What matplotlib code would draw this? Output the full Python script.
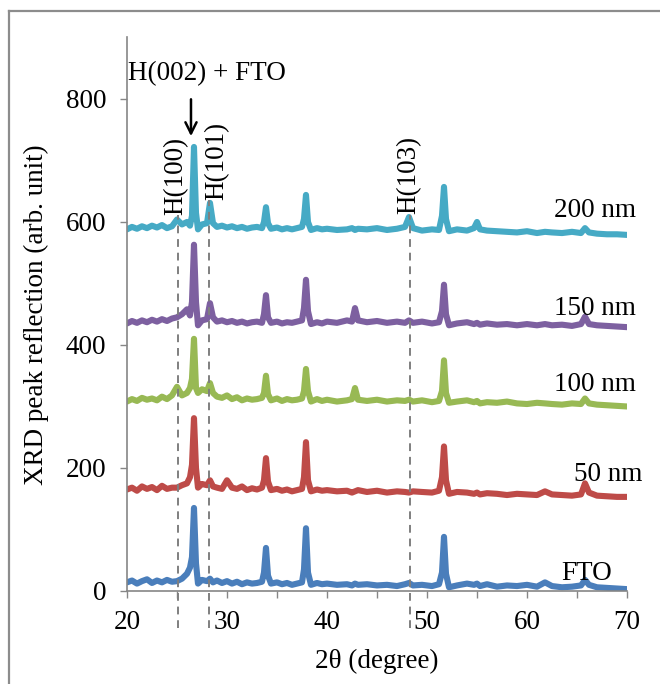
import numpy as np
import matplotlib.pyplot as plt
from matplotlib.lines import Line2D

plt.rcParams['font.family'] = ['Liberation Serif', 'DejaVu Serif']

# shared 2-theta grid (degree)
two_theta = [20, 20.5, 21, 21.5, 22, 22.5, 23, 23.5, 24, 24.5,
             25, 25.5, 26, 26.3, 26.5, 26.7, 26.9, 27.1, 27.5, 28,
             28.3, 28.6, 29, 29.5, 30, 30.5, 31, 31.5, 32, 32.5,
             33, 33.5, 33.7, 33.9, 34.1, 34.4, 35, 35.5, 36, 36.5,
             37, 37.5, 37.7, 37.9, 38.1, 38.4, 39, 39.5, 40, 41,
             42, 42.5, 42.8, 43.1, 44, 45, 46, 47, 47.8, 48.2,
             48.6, 49.5, 50.5, 51.2, 51.5, 51.7, 51.9, 52.2, 53, 54,
             54.7, 55, 55.3, 56, 57, 58, 59, 60, 61, 61.8,
             62.5, 63.5, 64.5, 65.4, 65.8, 66.2, 67, 68, 69, 70]

fto = [14, 17, 12, 16, 19, 13, 17, 14, 18, 15,
       16, 20, 28, 38, 55, 135, 45, 12, 18, 16,
       20, 14, 17, 13, 16, 12, 15, 11, 14, 12,
       13, 15, 30, 70, 25, 12, 14, 11, 13, 10,
       12, 14, 35, 102, 30, 10, 13, 11, 12, 10,
       11, 9, 12, 10, 11, 9, 10, 8, 11, 13,
       9, 10, 8, 11, 30, 88, 28, 6, 9, 12,
       10, 12, 8, 11, 7, 9, 8, 10, 7, 14,
       8, 6, 7, 9, 18, 10, 6, 5, 4, 3]

nm50 = [165, 168, 163, 170, 166, 169, 164, 171, 166, 168,
        168, 172, 175, 185, 205, 281, 200, 168, 174, 172,
        180, 170, 168, 166, 180, 168, 166, 170, 164, 167,
        165, 168, 180, 216, 178, 164, 166, 163, 165, 162,
        164, 166, 185, 242, 180, 162, 165, 163, 164, 162,
        163, 160, 162, 164, 161, 163, 160, 162, 161, 160,
        162, 161, 160, 163, 185, 235, 180, 158, 161, 160,
        158, 160, 157, 159, 158, 156, 158, 157, 156, 162,
        157, 156, 155, 157, 175, 160, 155, 154, 153, 153]

nm100 = [308, 312, 309, 314, 311, 313, 310, 316, 312, 318,
         332, 318, 322, 330, 345, 410, 330, 322, 328, 325,
         338, 322, 316, 314, 318, 312, 315, 310, 313, 311,
         312, 314, 322, 350, 320, 310, 313, 309, 312, 310,
         311, 313, 325, 361, 325, 308, 312, 309, 311, 308,
         310, 312, 330, 311, 309, 311, 308, 310, 309, 311,
         308, 310, 307, 309, 325, 375, 322, 306, 308, 310,
         307, 309, 305, 307, 306, 308, 305, 304, 306, 305,
         304, 303, 305, 304, 313, 305, 303, 302, 301, 300]

nm150 = [435, 439, 436, 440, 437, 441, 438, 442, 439, 443,
         445, 450, 458, 448, 470, 563, 470, 432, 440, 442,
         468, 445, 438, 440, 437, 439, 436, 438, 435, 437,
         438, 436, 450, 481, 445, 436, 438, 435, 437, 436,
         438, 440, 460, 506, 455, 434, 437, 435, 438, 436,
         440, 438, 460, 440, 437, 439, 436, 438, 436, 440,
         436, 438, 435, 437, 455, 498, 450, 432, 435, 437,
         434, 436, 433, 435, 433, 434, 432, 434, 432, 434,
         432, 433, 431, 434, 446, 434, 432, 431, 430, 429]

nm200 = [588, 592, 589, 593, 590, 594, 591, 595, 590, 593,
         604, 596, 600, 594, 610, 722, 615, 588, 596, 598,
         631, 598, 592, 594, 591, 593, 590, 592, 589, 591,
         592, 590, 600, 624, 598, 589, 591, 588, 590, 588,
         590, 592, 605, 644, 600, 587, 590, 588, 589, 587,
         588, 590, 587, 589, 588, 590, 587, 589, 592, 608,
         590, 586, 588, 587, 610, 657, 605, 585, 588, 586,
         590, 600, 588, 586, 585, 584, 583, 585, 582, 584,
         583, 582, 584, 582, 590, 583, 581, 580, 580, 579]

series = [fto, nm50, nm100, nm150, nm200]
colors = ['#4a7ebb', '#be4b48', '#98b954', '#7d60a0', '#46aac5']
names = ['FTO', '50 nm', '100 nm', '150 nm', '200 nm']
name_pos = [(66.0, 29), (68.1, 189), (66.8, 335), (66.8, 460), (66.8, 619)]

# hexagonal ZnO reflections (dashed guides)
peak_names = ['H(100)', 'H(101)', 'H(103)']
peak_x = [25.1, 28.2, 48.3]
peak_top = [611, 636, 611]
peak_label_pos = [(24.9, 675), (28.95, 699), (48.15, 676)]

fs = 19.5

fig = plt.figure(figsize=(6.6, 6.84), dpi=100)
ax = fig.add_axes([0.1924, 0.1360, 0.7576, 0.8092])

for ys, c in zip(series, colors):
    ax.plot(two_theta, ys, color=c, lw=4.4, solid_joinstyle='round',
            solid_capstyle='round')

for px, top in zip(peak_x, peak_top):
    ax.plot([px, px], [-60, top], color='#7f7f7f', lw=1.4,
            ls=(0, (4, 3)), clip_on=False, zorder=3)

for name, (lx, ly) in zip(peak_names, peak_label_pos):
    ax.text(lx, ly, name, rotation=90, ha='center', va='center', fontsize=fs)

for name, (lx, ly) in zip(names, name_pos):
    ax.text(lx, ly, name, ha='center', va='center', fontsize=fs)

ax.text(20.1, 842, 'H(002) + FTO', ha='left', va='center', fontsize=fs)
ax.annotate('', xy=(26.4, 735), xytext=(26.4, 804),
            arrowprops=dict(arrowstyle='->,head_length=0.8,head_width=0.4',
                            color='black', lw=1.8))

ax.set_xlim(20, 70)
ax.set_ylim(0, 900)
ax.set_xticks([20, 30, 40, 50, 60, 70])
ax.set_xticks([25, 35, 45, 55, 65], minor=True)
ax.set_yticks([0, 200, 400, 600, 800])
ax.tick_params(axis='both', which='both', direction='out', length=5,
               width=1, color='#868686', labelsize=fs)
ax.tick_params(axis='x', pad=9)
ax.tick_params(axis='y', pad=10)
for s in ['top', 'right']:
    ax.spines[s].set_visible(False)
for s in ['left', 'bottom']:
    ax.spines[s].set_color('#868686')
    ax.spines[s].set_linewidth(1.2)

ax.set_xlabel('2θ (degree)', fontsize=fs, labelpad=10)
ax.set_ylabel('XRD peak reflection (arb. unit)', fontsize=fs, labelpad=12)

# outer chart frame (cropped on the right and bottom)
fig.add_artist(Line2D([8.5 / 660, 8.5 / 660], [0, 1 - 11 / 684],
                      transform=fig.transFigure, color='#8c8c8c', lw=1.6))
fig.add_artist(Line2D([8.5 / 660, 1], [1 - 11 / 684, 1 - 11 / 684],
                      transform=fig.transFigure, color='#8c8c8c', lw=1.6))

fig.savefig('out.png', dpi=100)
